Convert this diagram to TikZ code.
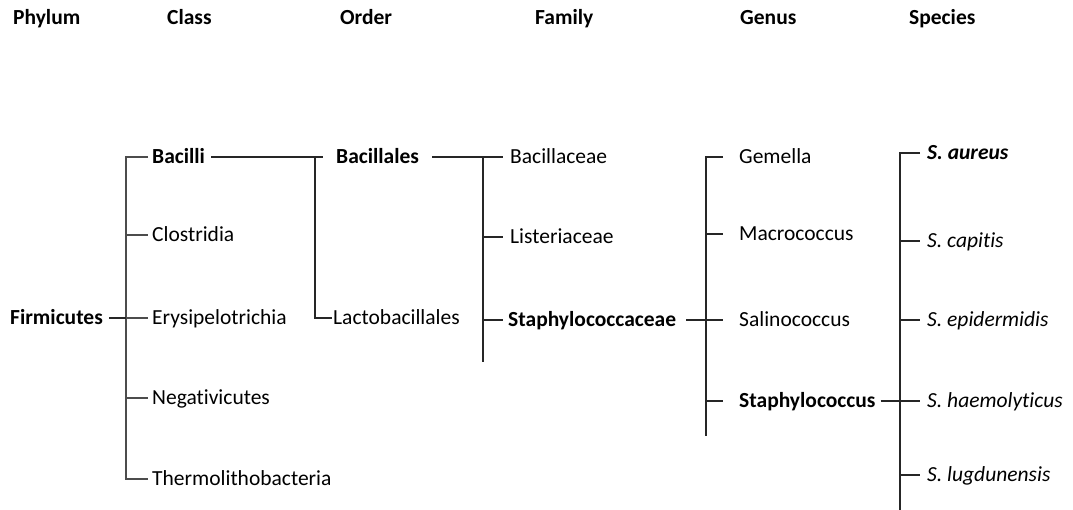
\documentclass[tikz,border=0pt]{standalone}
\usepackage{fontspec}
\setmainfont{Carlito}[Ligatures={NoCommon,NoRare,NoDiscretionary,NoContextual}]
\begin{document}
\begin{tikzpicture}[x=1pt,y=-1pt,
  lbl/.style={anchor=west,inner sep=0pt,font=\fontsize{21.5}{26}\selectfont,text height=17.2pt,text depth=3.44pt},
  bl/.style={lbl,font=\fontsize{21.5}{26}\selectfont\bfseries},
  hdr/.style={bl},
  it/.style={lbl,font=\fontsize{21.5}{26}\selectfont\itshape},
  bit/.style={lbl,font=\fontsize{21.5}{26}\selectfont\bfseries\itshape},
  br/.style={line width=1.2pt,black!85},
  brc/.style={line width=1.5pt,black!70}]
\useasboundingbox (0,0) rectangle (1073,510);
% headers
\node[hdr] (h1) at (13,18) {Phylum};
\node[hdr] (h2) at (167,18) {Class};
\node[hdr] (h3) at (340,18) {Order};
\node[hdr] (h4) at (535,18) {Family};
\node[hdr] (h5) at (740,18) {Genus};
\node[hdr] (h6) at (909,18) {Species};
% phylum & class
\node[bl] (firm) at (10,318) {Firmicutes};
\node[bl] (bacilli) at (152,157) {Bacilli};
\node[lbl] (clos) at (152,235) {Clostridia};
\node[lbl] (ery) at (152,318) {Erysipelotrichia};
\node[lbl] (neg) at (152,398) {Negativicutes};
\node[lbl] (thermo) at (152,479) {Thermolithobacteria};
% order
\node[bl] (bacillales) at (336,157) {Bacillales};
\node[lbl] (lacto) at (333,318) {Lactobacillales};
% family
\node[lbl] (bacillaceae) at (510,157) {Bacillaceae};
\node[lbl] (lister) at (510,237) {Listeriaceae};
\node[bl] (staphaceae) at (508,320) {Staphylococcaceae};
% genus
\node[lbl] (gem) at (739,157) {Gemella};
\node[lbl] (macro) at (739,234) {Macrococcus};
\node[lbl] (salino) at (739,320) {Salinococcus};
\node[bl] (staph) at (739,401) {Staphylococcus};
% species
\node[bit] (aureus) at (927,153) {S. aureus};
\node[it] (capitis) at (927,241) {S. capitis};
\node[it] (epi) at (927,320) {S. epidermidis};
\node[it] (haemo) at (927,401) {S. haemolyticus};
\node[it] (lug) at (927,475) {S. lugdunensis};
% trunk coordinates
\coordinate (cx) at (126,0);
\coordinate (ox) at (315,0);
\coordinate (fx) at (483,0);
\coordinate (gx) at (706,0);
\coordinate (sx) at (900,0);
\coordinate (fbot) at (483,362);
\coordinate (gbot) at (706,436);
\coordinate (sbot) at (900,510);
% class tree
\draw[brc] ([xshift=-4pt]bacilli.west) -- (bacilli.west -| cx) -- (thermo.west -| cx) -- ([xshift=-4pt]thermo.west);
\foreach \n in {clos,ery,neg} \draw[brc] (\n.west -| cx) -- ([xshift=-4pt]\n.west);
\draw[br] ([xshift=6pt]firm.east) -- (firm.east -| cx);
% order tree
\draw[br] ([xshift=6pt]bacilli.east) -- ([xshift=-13pt]bacillales.west);
\draw[br] (bacilli.east -| ox) -- (lacto.west -| ox) -- ([xshift=-1pt]lacto.west);
% family tree
\draw[br] ([xshift=13pt]bacillales.east) -- ([xshift=-7pt]bacillaceae.west);
\draw[br] (bacillaceae.west -| fx) -- (fbot);
\draw[br] (lister.west -| fx) -- ([xshift=-7pt]lister.west);
\draw[br] (staphaceae.west -| fx) -- ([xshift=-5pt]staphaceae.west);
% genus tree
\draw[br] ([xshift=10pt]staphaceae.east) -- ([xshift=-16pt]salino.west);
\draw[br] ([xshift=-16pt]gem.west) -- (gem.west -| gx) -- (gbot);
\foreach \n in {macro,salino,staph} \draw[br] (\n.west -| gx) -- ([xshift=-16pt]\n.west);
% species tree
\draw[br] ([xshift=5pt]staph.east) -- ([xshift=-7pt]haemo.west);
\draw[br] ([xshift=-7pt]aureus.west) -- (aureus.west -| sx) -- (sbot);
\foreach \n in {capitis,epi,haemo,lug} \draw[br] (\n.west -| sx) -- ([xshift=-7pt]\n.west);
\end{tikzpicture}
\end{document}
